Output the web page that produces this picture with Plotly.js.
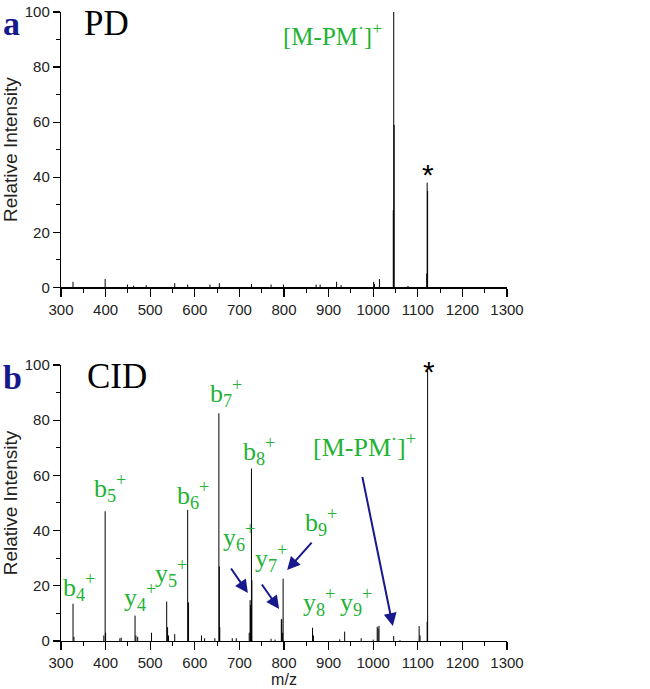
<!DOCTYPE html>
<html>
<head>
<meta charset="utf-8">
<script src="https://cdn.plot.ly/plotly-3.0.1.min.js"></script>
<style>html,body{margin:0;padding:0;background:#fff;}#chart{width:650px;height:689px;}</style>
</head>
<body>
<div id="chart"></div>
<script>
// ---- Data ----
const pdMz  = [327, 399, 449, 463, 491, 555, 584, 634, 655, 727, 771, 799, 872, 881, 918, 928, 1001, 1003, 1014, 1045, 1046, 1047, 1078, 1120, 1121, 1122];
const pdInt = [2, 3, 1, 0.6, 0.8, 1.5, 1, 1, 1.5, 1.2, 1, 1, 1, 1, 2, 0.8, 2, 1.2, 3, 28, 100, 59, 0.5, 5, 38, 35];

const cidMz  = [327, 329, 396, 399, 400, 432, 435, 466, 468, 472, 503, 537, 539, 541, 555, 584, 586, 615, 622, 645, 654, 655, 656, 684, 693, 722, 724, 725, 727, 728, 771, 780, 794, 795, 797, 798, 864, 866, 925, 936, 973, 1000, 1009, 1011, 1013, 1046, 1060, 1103, 1105, 1121, 1122];
const cidInt = [13.5, 1.5, 2, 47, 3, 1, 1.2, 9.2, 2, 1.5, 3, 14.3, 5, 2, 2.5, 47.5, 14, 2, 1, 1, 82.5, 27, 5, 1, 1, 3, 14.8, 13, 62.5, 22, 0.8, 0.5, 7.8, 8, 3, 22.6, 4.8, 2, 0.6, 3.4, 1, 0.5, 5.2, 4.5, 5.5, 1.8, 0.3, 5.4, 2, 7, 98];

const xTickVals = [300, 400, 500, 600, 700, 800, 900, 1000, 1100, 1200, 1300];
const yTickVals = [0, 20, 40, 60, 80, 100];

// fragment labels for CID panel: [text, m/z position, intensity position]
const cidLabels = [
  ["b<sub>4</sub><sup>+</sup>", 340, 19.5],
  ["b<sub>5</sub><sup>+</sup>", 409, 55.5],
  ["y<sub>4</sub><sup>+</sup>", 478, 16],
  ["y<sub>5</sub><sup>+</sup>", 546, 24.5],
  ["b<sub>6</sub><sup>+</sup>", 597, 53],
  ["b<sub>7</sub><sup>+</sup>", 671, 90],
  ["b<sub>8</sub><sup>+</sup>", 743, 69],
  ["y<sub>6</sub><sup>+</sup>", 700, 37.5],
  ["y<sub>7</sub><sup>+</sup>", 770, 30],
  ["b<sub>9</sub><sup>+</sup>", 884, 43],
  ["y<sub>8</sub><sup>+</sup>", 879, 14],
  ["y<sub>9</sub><sup>+</sup>", 962, 14],
  ["[M-PM<sup>·</sup>]<sup>+</sup>", 980, 71]
];
// arrows: [head m/z, head int, tail m/z, tail int]
const cidArrows = [
  [719, 17.4, 679, 26.8],
  [789, 11.6, 748, 21],
  [807, 25.7, 865, 36.2],
  [1044, 5.4, 975, 60]
];

// ---- build stick spectra ----
function sticks(mz, inten) {
  const xs = [], ys = [];
  mz.forEach((m, i) => { xs.push(m, m, null); ys.push(0, inten[i], null); });
  return {xs, ys};
}
const a = sticks(pdMz, pdInt);
const b = sticks(cidMz, cidInt);

const green = 'rgb(34,178,52)';
const navy = 'rgb(22,24,140)';
const serif = 'Liberation Serif, Times New Roman, serif';
const sans = 'Liberation Sans, Arial, sans-serif';

const traces = [
  {x: a.xs, y: a.ys, xaxis: 'x', yaxis: 'y', mode: 'lines', line: {color: '#000', width: 1}, hoverinfo: 'skip', showlegend: false},
  {x: b.xs, y: b.ys, xaxis: 'x2', yaxis: 'y2', mode: 'lines', line: {color: '#000', width: 1}, hoverinfo: 'skip', showlegend: false}
];

function xax(anchor, title) {
  return {
    anchor: anchor, domain: [0, 1], range: [300, 1300], showgrid: false, zeroline: false,
    showline: true, linecolor: '#000', linewidth: 1.2,
    ticks: 'outside', ticklen: 8, tickwidth: 1.2, tickcolor: '#000',
    tickvals: xTickVals, ticktext: xTickVals.map(String),
    tickfont: {family: sans, size: 15, color: '#222'},
    minor: {dtick: 50, tick0: 300, ticks: 'outside', ticklen: 4, tickwidth: 1, tickcolor: '#000', showgrid: false},
    title: title ? {text: title, font: {family: sans, size: 16, color: '#222'}, standoff: 2} : undefined
  };
}
function yax(anchor, domain) {
  return {
    anchor: anchor, domain: domain, range: [0, 100], showgrid: false, zeroline: false,
    showline: true, linecolor: '#000', linewidth: 1.2,
    ticks: 'outside', ticklen: 7, tickwidth: 1.2, tickcolor: '#000',
    tickvals: yTickVals, ticktext: yTickVals.map(String),
    tickfont: {family: sans, size: 15, color: '#222'},
    minor: {dtick: 10, tick0: 0, ticks: 'outside', ticklen: 4, tickwidth: 1, tickcolor: '#000', showgrid: false},
    title: {text: 'Relative Intensity', font: {family: sans, size: 19, color: '#222'}, standoff: 8}
  };
}

const annotations = [];
// panel letters and titles
annotations.push({xref: 'paper', yref: 'paper', x: -0.134, y: 1.015, xanchor: 'left', yanchor: 'top', text: '<b>a</b>', showarrow: false, font: {family: serif, size: 34, color: navy}});
annotations.push({xref: 'paper', yref: 'paper', x: -0.134, y: 0.4388 + 0.012, xanchor: 'left', yanchor: 'top', text: '<b>b</b>', showarrow: false, font: {family: serif, size: 34, color: navy}});
annotations.push({xref: 'x', yref: 'y', x: 403, y: 96, text: 'PD', showarrow: false, font: {family: serif, size: 35, color: '#000'}});
annotations.push({xref: 'x2', yref: 'y2', x: 425, y: 96, text: 'CID', showarrow: false, font: {family: serif, size: 35, color: '#000'}});
// panel a labels
annotations.push({xref: 'x', yref: 'y', x: 908, y: 92, text: '[M-PM<sup>·</sup>]<sup>+</sup>', showarrow: false, font: {family: serif, size: 25, color: green}});
annotations.push({xref: 'x', yref: 'y', x: 1123, y: 41, text: '*', showarrow: false, font: {family: sans, size: 30, color: '#000'}});
// panel b labels
cidLabels.forEach(l => annotations.push({xref: 'x2', yref: 'y2', x: l[1], y: l[2], text: l[0], showarrow: false, font: {family: serif, size: 26, color: green}}));
annotations.push({xref: 'x2', yref: 'y2 domain', x: 1125, y: 1.045, text: '*', showarrow: false, font: {family: sans, size: 30, color: '#000'}});
cidArrows.forEach(ar => annotations.push({
  xref: 'x2', yref: 'y2', axref: 'x2', ayref: 'y2', x: ar[0], y: ar[1], ax: ar[2], ay: ar[3],
  text: '', showarrow: true, arrowhead: 2, arrowsize: 1.3, arrowwidth: 2, arrowcolor: navy
}));

const layout = {
  width: 650, height: 689,
  margin: {l: 61, r: 143, t: 12, b: 48},
  paper_bgcolor: '#fff', plot_bgcolor: '#fff',
  showlegend: false,
  xaxis: xax('y', null),
  yaxis: yax('x', [0.5623, 1]),
  xaxis2: xax('y2', 'm/z'),
  yaxis2: yax('x2', [0, 0.4388]),
  annotations: annotations
};

Plotly.newPlot('chart', traces, layout, {displayModeBar: false, staticPlot: true});
</script>
</body>
</html>
